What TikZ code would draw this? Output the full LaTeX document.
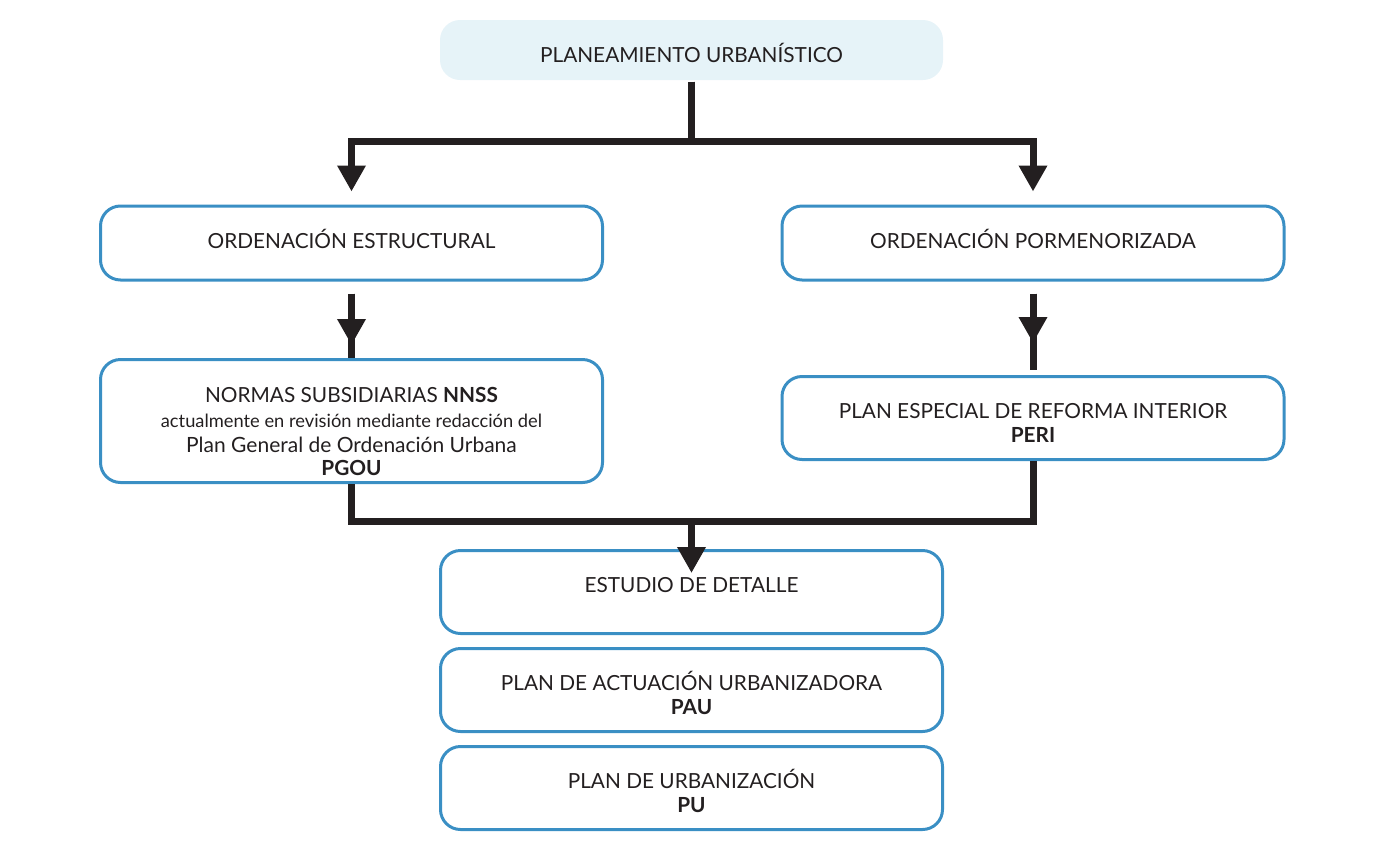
\documentclass[tikz,border=0pt]{standalone}
\usepackage{fontspec}
\setmainfont{Lato}
\usetikzlibrary{arrows.meta}
\definecolor{planblue}{HTML}{3A8FC4}
\definecolor{planfill}{HTML}{E6F3F8}
\definecolor{planink}{HTML}{231F20}
\newcommand{\tallstrut}{\rule{0pt}{25pt}}
\newcommand{\deepstrut}{\rule[-8pt]{0pt}{8pt}}
\begin{document}
\begin{tikzpicture}[x=1pt,y=-1pt,
  box/.style={draw=planblue,line width=3pt,rounded corners=20pt,minimum width=502pt,
    minimum height=83pt,align=center,text=planink,font=\fontsize{20.8}{24}\selectfont},
  flow/.style={draw=planink,line width=7pt},
  tip/.style={-{Triangle[width=27pt,length=26pt]}}]
  \useasboundingbox (0,0) rectangle (1395,844);
  % boxes
  \node[box,draw=none,fill=planfill,minimum width=503pt,minimum height=60pt] (plan) at (691.5,50) {\tallstrut PLANEAMIENTO URBANÍSTICO};
  \node[box,minimum height=74pt] (oe) at (351.5,243) {ORDENACIÓN ESTRUCTURAL\deepstrut};
  \node[box,minimum height=74pt] (op) at (1033,243) {ORDENACIÓN PORMENORIZADA\deepstrut};
  \node[box,minimum height=123pt] (nnss) at (351.5,421) {\rule{0pt}{37pt}NORMAS SUBSIDIARIAS \textbf{NNSS}\\[1pt]
    {\fontsize{18.3}{18}\selectfont actualmente en revisión mediante redacción del}\\[1pt]
    {\fontsize{21}{24}\selectfont Plan General de Ordenación Urbana}\\[-1pt]
    \textbf{PGOU}};
  \node[box] (peri) at (1033,418) {\tallstrut PLAN ESPECIAL DE REFORMA INTERIOR\\ \textbf{PERI}};
  \node[box] (ed) at (691.5,592) {\tallstrut ESTUDIO DE DETALLE\\ {}};
  \node[box] (pau) at (691.5,690) {\tallstrut PLAN DE ACTUACIÓN URBANIZADORA\\ \textbf{PAU}};
  \node[box] (pu) at (691.5,788) {\tallstrut PLAN DE URBANIZACIÓN\\ \textbf{PU}};
  % connectors
  \draw[flow,tip,shorten >=13pt] (plan.south) -- ++(0,60) -| (oe.north);
  \draw[flow,tip,shorten >=13pt] (plan.south) -- ++(0,60) -| (op.north);
  \draw[flow] ([yshift=-12pt]oe.south) -- (nnss.north);
  \draw[flow,tip] ([yshift=-12pt]oe.south) -- ([yshift=13pt]nnss.north);
  \draw[flow] ([yshift=-12pt]op.south) -- ([yshift=5pt]peri.north);
  \draw[flow,tip] ([yshift=-12pt]op.south) -- ([yshift=32pt]peri.north);
  \draw[flow] (nnss.south) -- ++(0,37) -| (peri.south);
  \coordinate (merge) at (691.5,519.5);
  \draw[flow,tip] (merge) -- ([yshift=-24pt]ed.north);
\end{tikzpicture}
\end{document}
